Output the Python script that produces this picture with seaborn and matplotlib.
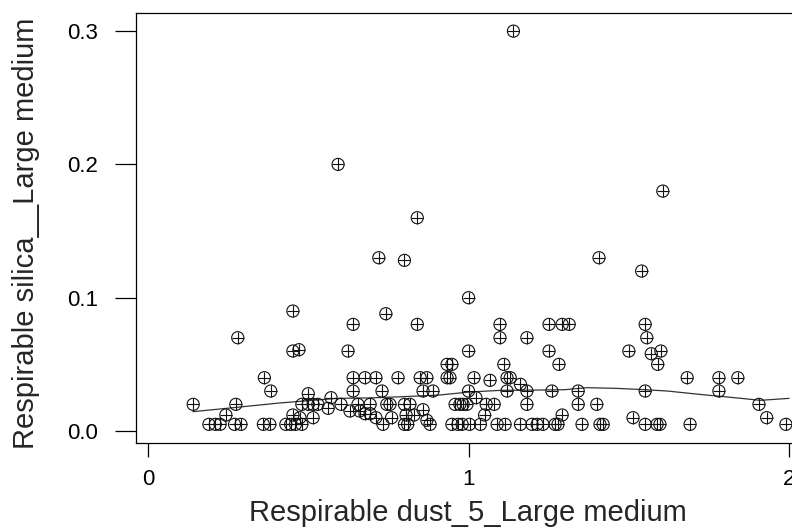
import matplotlib
matplotlib.use("Agg")
import matplotlib.pyplot as plt
import seaborn as sns
import pandas as pd

# Scatter data: Respirable dust_5_Large medium (x) vs Respirable silica__Large medium (y)
dust = [0.141, 0.19, 0.21, 0.225, 0.27, 0.29, 0.36, 0.38, 0.243, 0.274, 0.28, 0.363, 0.383,
        0.43, 0.445, 0.46, 0.48, 0.452, 0.452, 0.471, 0.452, 0.474,
        0.48, 0.50, 0.515, 0.53, 0.50, 0.515, 0.562, 0.571, 0.602, 0.593, 0.624, 0.63,
        0.64, 0.64, 0.64, 0.655, 0.66, 0.677, 0.677, 0.693, 0.693, 0.711, 0.711, 0.72,
        0.73, 0.733, 0.742, 0.745, 0.755, 0.76, 0.78, 0.80, 0.80, 0.817, 0.805, 0.83,
        0.80, 0.81, 0.84, 0.84, 0.849, 0.87, 0.858, 0.889, 0.858, 0.87, 0.88,
        0.933, 0.948, 0.933, 0.942, 0.958, 0.973, 0.983, 0.995,
        0.948, 0.967, 0.98, 1.003, 1.037, 1.0, 1.0, 1.0, 1.017, 1.023, 1.05, 1.055, 1.08,
        1.067, 1.089, 1.114, 1.098, 1.098, 1.11, 1.12, 1.13, 1.12, 1.14, 1.162,
        1.162, 1.198, 1.214, 1.232, 1.182, 1.182, 1.182, 1.251, 1.292, 1.314, 1.251,
        1.26, 1.27, 1.279, 1.282, 1.292, 1.342, 1.342, 1.354, 1.40, 1.407, 1.41, 1.42,
        1.50, 1.513, 1.54, 1.551, 1.556, 1.551, 1.551, 1.57, 1.59, 1.588, 1.597, 1.606,
        1.60, 1.682, 1.691, 1.781, 1.781, 1.84, 1.906, 1.93, 1.99]
silica = [0.020, 0.005, 0.005, 0.005, 0.005, 0.005, 0.005, 0.005, 0.012, 0.020, 0.070, 0.040, 0.030,
          0.005, 0.005, 0.005, 0.005, 0.090, 0.060, 0.061, 0.012, 0.010,
          0.020, 0.020, 0.020, 0.020, 0.028, 0.010, 0.017, 0.025, 0.020, 0.200, 0.060, 0.015,
          0.080, 0.040, 0.030, 0.020, 0.015, 0.013, 0.040, 0.020, 0.013, 0.040, 0.010, 0.130,
          0.030, 0.005, 0.088, 0.020, 0.020, 0.010, 0.040, 0.128, 0.020, 0.020, 0.012, 0.012,
          0.005, 0.005, 0.160, 0.080, 0.040, 0.040, 0.030, 0.030, 0.016, 0.008, 0.005,
          0.050, 0.050, 0.040, 0.040, 0.020, 0.020, 0.020, 0.020,
          0.005, 0.005, 0.005, 0.005, 0.005, 0.100, 0.060, 0.030, 0.040, 0.025, 0.012, 0.020, 0.020,
          0.038, 0.005, 0.005, 0.080, 0.070, 0.050, 0.040, 0.040, 0.030, 0.300, 0.035,
          0.005, 0.005, 0.005, 0.005, 0.070, 0.030, 0.020, 0.080, 0.080, 0.080, 0.060,
          0.030, 0.005, 0.005, 0.050, 0.012, 0.030, 0.020, 0.005, 0.020, 0.130, 0.005, 0.005,
          0.060, 0.010, 0.120, 0.080, 0.070, 0.030, 0.005, 0.058, 0.050, 0.005, 0.005, 0.180,
          0.060, 0.040, 0.005, 0.040, 0.030, 0.040, 0.020, 0.010, 0.005]

# Smooth curve
smooth_x = [0.14, 0.245, 0.41, 0.59, 0.69, 0.79, 0.91, 1.0, 1.1, 1.21, 1.3, 1.37, 1.46,
            1.55, 1.62, 1.72, 1.85, 1.91, 2.0]
smooth_y = [0.0145, 0.017, 0.021, 0.0245, 0.0248, 0.0257, 0.027, 0.0292, 0.0305, 0.0307,
            0.031, 0.0325, 0.032, 0.031, 0.030, 0.0275, 0.0245, 0.023, 0.0245]

x_ticks = [0, 1, 2]
x_tick_labels = ["0", "1", "2"]
y_ticks = [0.0, 0.1, 0.2, 0.3]
y_tick_labels = ["0.0", "0.1", "0.2", "0.3"]

sns.set_style("white")
plt.rcParams["font.family"] = ["Liberation Sans", "DejaVu Sans"]

df = pd.DataFrame({"x": dust, "y": silica})
sm = pd.DataFrame({"x": smooth_x, "y": smooth_y})

fig = plt.figure(figsize=(7.92, 5.29), dpi=100)
ax = fig.add_axes([136 / 792, 86 / 529, 664 / 792, 430 / 529])

sns.scatterplot(data=df, x="x", y="y", ax=ax, marker="o", s=76, facecolors="none",
                edgecolor="#111111", linewidth=0.8, zorder=3)
sns.scatterplot(data=df, x="x", y="y", ax=ax, marker="+", s=76, color="#111111",
                linewidth=0.8, zorder=3)
sns.lineplot(data=sm, x="x", y="y", ax=ax, sort=False, estimator=None,
             color="#333333", linewidth=0.9, zorder=2)

ax.set_xlim(-0.0374, 2.034)
ax.set_ylim(-0.009, 0.3136)
ax.set_xticks(x_ticks)
ax.set_xticklabels(x_tick_labels)
ax.set_yticks(y_ticks)
ax.set_yticklabels(y_tick_labels)

for s in ["left", "top", "bottom", "right"]:
    ax.spines[s].set_visible(True)
    ax.spines[s].set_color("black")
    ax.spines[s].set_linewidth(0.9)

ax.tick_params(axis="x", direction="out", length=10, width=0.9, pad=9, labelsize=16,
               bottom=True, colors="black")
ax.tick_params(axis="y", direction="out", length=15, width=0.9, pad=12, labelsize=16,
               left=True, colors="black")

ax.set_xlabel("Respirable dust_5_Large medium", fontsize=21, labelpad=6)
ax.set_ylabel("Respirable silica__Large medium", fontsize=21)
ax.yaxis.set_label_coords(-0.1446, 0.488)

fig.savefig("out.png", dpi=100)
